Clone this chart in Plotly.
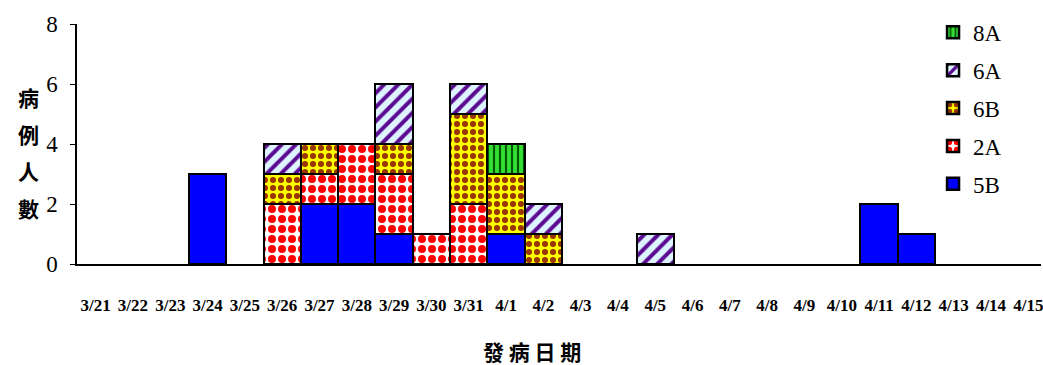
import plotly.graph_objects as go

dates = ["3/21","3/22","3/23","3/24","3/25","3/26","3/27","3/28","3/29","3/30",
         "3/31","4/1","4/2","4/3","4/4","4/5","4/6","4/7","4/8","4/9","4/10",
         "4/11","4/12","4/13","4/14","4/15"]
s5B = [0,0,0,3,0,0,2,2,1,0,0,1,0,0,0,0,0,0,0,0,0,2,1,0,0,0]
s2A = [0,0,0,0,0,2,1,2,2,1,2,0,0,0,0,0,0,0,0,0,0,0,0,0,0,0]
s6B = [0,0,0,0,0,1,1,0,1,0,3,2,1,0,0,0,0,0,0,0,0,0,0,0,0,0]
s6A = [0,0,0,0,0,1,0,0,2,0,1,0,1,0,0,1,0,0,0,0,0,0,0,0,0,0]
s8A = [0,0,0,0,0,0,0,0,0,0,0,1,0,0,0,0,0,0,0,0,0,0,0,0,0,0]

series = [
    ("5B", s5B, dict(color="#0000FF")),
    ("2A", s2A, dict(color="#FFFFFF", pattern=dict(shape=".", fgcolor="#FF0000", size=10, solidity=0.5, fgopacity=1))),
    ("6B", s6B, dict(color="#FFFF00", pattern=dict(shape=".", fgcolor="#993300", size=8, solidity=0.45, fgopacity=1))),
    ("6A", s6A, dict(color="#DDF4FF", pattern=dict(shape="/", fgcolor="#5B0A91", size=10, solidity=0.4, fgopacity=1))),
    ("8A", s8A, dict(color="#33DD33", pattern=dict(shape="|", fgcolor="#005500", size=6, solidity=0.35, fgopacity=1))),
]

fig = go.Figure()
n = len(series)
for i, (name, vals, mk) in enumerate(series):
    mk = dict(mk)
    mk["line"] = dict(color="#000000", width=2.5)
    fig.add_trace(go.Bar(
        x=dates, y=[v if v > 0 else None for v in vals], name=name,
        legendgroup=name, legendrank=n - i, marker=mk,
    ))

fig.update_layout(
    barmode="stack", bargap=0,
    width=1043, height=365,
    margin=dict(l=77, r=0, t=24, b=101),
    plot_bgcolor="white", paper_bgcolor="white",
    font=dict(family="Liberation Serif", color="black"),
    showlegend=True,
    legend=dict(x=0.888, y=1.055, xanchor="left", yanchor="top",
                traceorder="grouped", tracegroupgap=5, maxheight=330,
                font=dict(size=23, family="Liberation Serif"),
                bgcolor="rgba(0,0,0,0)", itemwidth=30),
    xaxis=dict(type="category", categoryorder="array", categoryarray=dates,
               range=[-0.5, 25.34], showline=True, linecolor="black", linewidth=1.5,
               ticks="", showgrid=False, ticklabelstandoff=25,
               tickfont=dict(size=17, family="Liberation Serif", weight="bold"),
               tickangle=0),
    yaxis=dict(range=[0, 8], dtick=2, showline=True, linecolor="black", linewidth=1.5,
               ticks="outside", ticklen=5, tickcolor="black", showgrid=False,
               zeroline=False, ticklabelstandoff=8,
               tickfont=dict(size=23, family="Liberation Serif")),
)

fig.add_annotation(text="發 病 日 期", xref="paper", yref="paper",
                   x=0.472, y=0, xanchor="center", yanchor="middle", yshift=-87,
                   showarrow=False,
                   font=dict(size=21, family="Noto Sans CJK TC", weight="bold"))
for i, ch in enumerate(["病", "例", "人", "數"]):
    fig.add_annotation(text=ch, xref="paper", yref="paper",
                       x=0, xanchor="center", xshift=-49,
                       y=1, yanchor="middle", yshift=-73 - 37 * i, showarrow=False,
                       font=dict(size=21, family="Noto Sans CJK TC", weight="bold"))

fig.write_html("out.html")
